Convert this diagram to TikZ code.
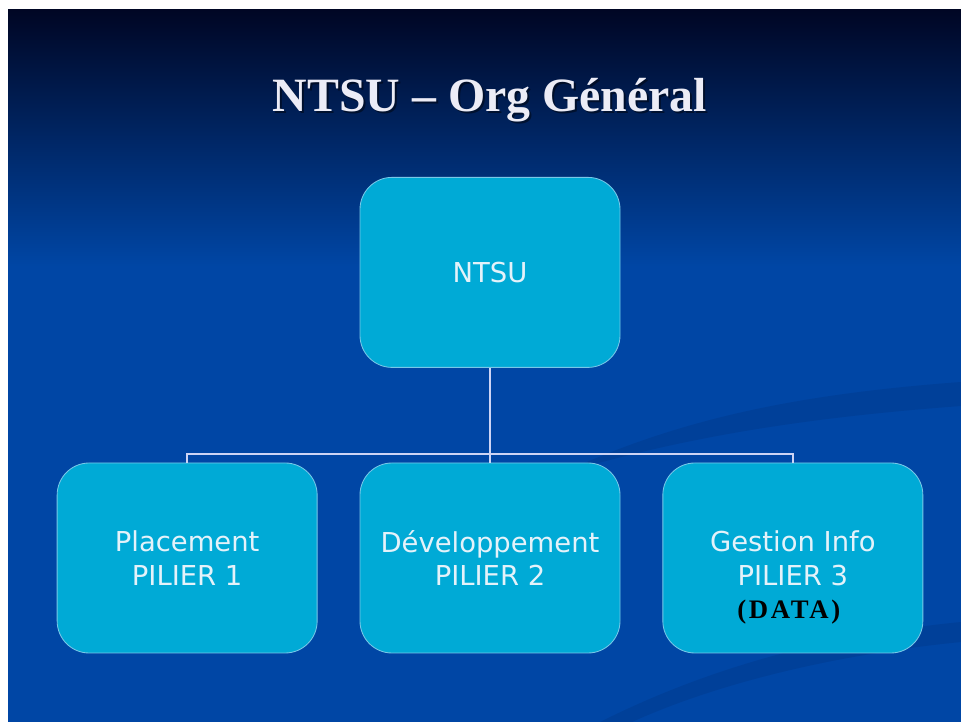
\documentclass[tikz,border=0pt]{standalone}
\usepackage{fontspec}
\setmainfont{Liberation Serif}
\newfontfamily\boxfont{DejaVu Sans}
\newfontfamily\datafont[LetterSpace=10]{Liberation Serif}
\usepackage{xcolor}
\usetikzlibrary{positioning}
\definecolor{navytop}{RGB}{0,6,36}
\definecolor{slideblue}{RGB}{0,70,165}
\definecolor{boxcyan}{RGB}{0,170,214}
\definecolor{boxedge}{RGB}{120,200,232}
\definecolor{linkcol}{RGB}{205,212,245}
\definecolor{boxtext}{RGB}{228,242,250}
\begin{document}
\begin{tikzpicture}[
pillar/.style={rectangle,rounded corners=0.8cm,fill=boxcyan,draw=boxedge,line width=0.6pt,
minimum width=6.5cm,minimum height=4.75cm,align=center,text=boxtext,
font=\boxfont\fontsize{19.5}{24}\selectfont},
link/.style={draw=linkcol,line width=1.3pt},
swoosh/.style={fill=navytop,opacity=0.09}]
\useasboundingbox(0,0)rectangle(24.025,18.05);
\fill[white](0,0)rectangle(24.025,18.05);
\fill[slideblue](0.2,0)rectangle(24.025,11.4);
\shade[top color=navytop,bottom color=slideblue](0.2,11.4)rectangle(24.025,17.8);
\fill[swoosh](14,6.2).. controls (17,7.6) and (20,8.2) ..(24.025,8.5)--(24.025,7.9)
.. controls (20,7.6) and (17,7.1) ..(14,6.2);
\fill[swoosh](15,0).. controls (18,1.5) and (21,2.2) ..(24.025,2.5)--(24.025,2.0)
.. controls (21,1.7) and (18,1.0) ..(15.8,0)--cycle;
\node[font=\fontsize{34}{40}\selectfont\bfseries,text=black,opacity=0.45](titleshadow)
at(12.3,15.5){NTSU -- Org Général};
\node[font=\fontsize{34}{40}\selectfont\bfseries,text={rgb,255:red,236;green,236;blue,246}](title)
at(12.25,15.55){NTSU -- Org Général};
\node[pillar](ntsu)at(12.25,11.24){NTSU};
\node[pillar](pil2)at(12.25,4.1){Développement\\PILIER 2};
\node[pillar,left=1.05cm of pil2](pil1){Placement\\PILIER 1};
\node[pillar,right=1.05cm of pil2](pil3){Gestion Info\\PILIER 3};
\node[font=\datafont\fontsize{19}{20}\selectfont\bfseries,text=black](data)
at([xshift=-0.1cm,yshift=-1.35cm]pil3.center){(DATA)};
\coordinate(bar)at(12.25,6.7);
\draw[link](ntsu.south)--(bar);
\draw[link](pil1.north)|-(bar)-|(pil3.north);
\draw[link](pil2.north)--(bar);
\end{tikzpicture}
\end{document}
